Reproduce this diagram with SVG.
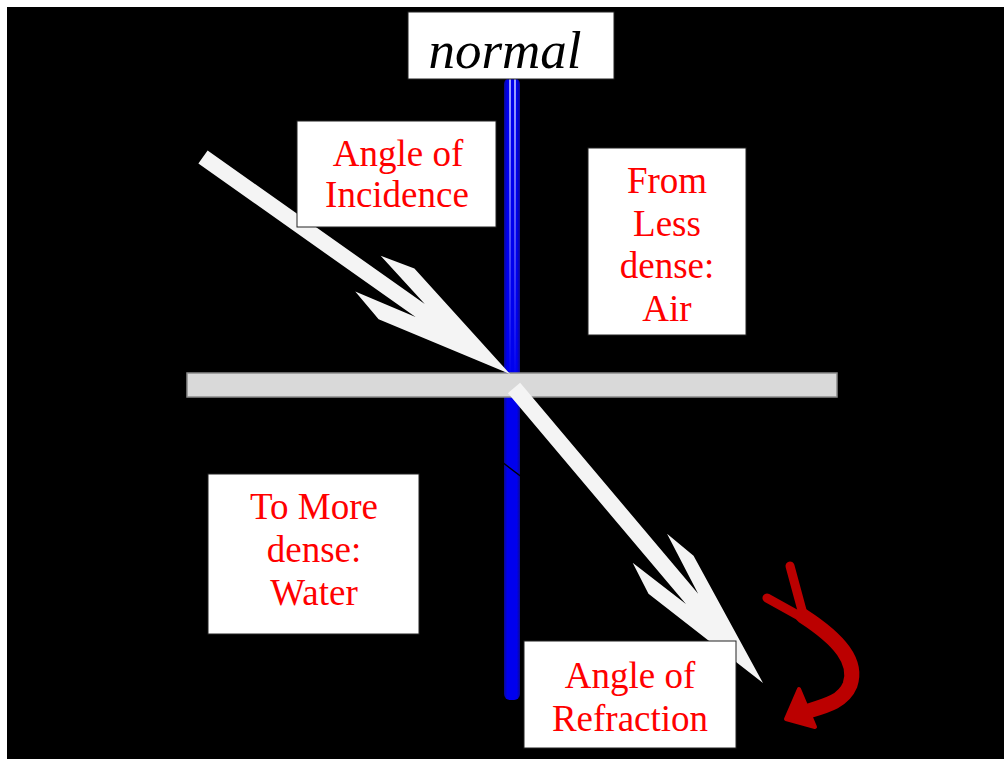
<svg xmlns="http://www.w3.org/2000/svg" width="1004" height="761" viewBox="0 0 1004 761">
  <defs>
    <style>
      .box { fill: #ffffff; stroke: #222222; stroke-width: 1; }
      .lbl { font-family: "Liberation Serif", "Times New Roman", serif; font-size: 37px; fill: #ff0000; text-anchor: middle; }
      .norm { font-family: "Liberation Serif", "Times New Roman", serif; font-size: 53px; font-style: italic; fill: #000000; text-anchor: middle; }
      .ray { fill: #f4f4f4; }
    </style>
    <linearGradient id="blueH" x1="0" y1="0" x2="1" y2="0">
      <stop offset="0" stop-color="#0a0a90"/>
      <stop offset="0.2" stop-color="#0000ee"/>
      <stop offset="0.8" stop-color="#0000ee"/>
      <stop offset="1" stop-color="#0a0a90"/>
    </linearGradient>
    <linearGradient id="stripeFade" x1="0" y1="0" x2="0" y2="1">
      <stop offset="0" stop-color="#b0b8ff" stop-opacity="0.9"/>
      <stop offset="1" stop-color="#b0b8ff" stop-opacity="0"/>
    </linearGradient>
  </defs>

  <rect x="0" y="0" width="1004" height="761" fill="#ffffff"/>
  <rect x="7" y="7" width="997" height="752" fill="#000000"/>

  <g id="normal-line">
    <rect x="504" y="78" width="16" height="622" rx="6" fill="url(#blueH)"/>
    <rect x="509" y="78" width="2" height="300" fill="url(#stripeFade)"/>
    <rect x="514" y="78" width="2" height="300" fill="url(#stripeFade)"/>
    <line x1="502" y1="462" x2="523" y2="478" stroke="#000000" stroke-width="1.5"/>
  </g>

  <g id="surface">
    <rect x="187" y="373" width="650" height="24" fill="#d9d9d9" stroke="#8a8a8a" stroke-width="1.5"/>
  </g>

  <g id="connectors">
    <path id="incident-ray" class="ray" transform="translate(203,157) rotate(35.26)" d="M0,-8 L266,-8 L202,-22 L237,-31 L376,0 L237,31 L202,22 L266,8 L0,8 Z"/>
    <path id="refracted-ray" class="ray" transform="translate(514,388) rotate(49.83)" d="M0,-8 L276,-8 L210,-23 L244,-29 L386,0 L244,30 L210,22 L276,8 L0,8 Z"/>
    <g id="red-curved-arrow" fill="none" stroke="#bb0000" stroke-linecap="round">
      <path d="M767,598 L803,618" stroke-width="9"/>
      <path d="M790,566 L803,614" stroke-width="9"/>
      <path d="M803,616 C840,640 858,662 850,685 C843,702 825,706 805,712" stroke-width="15"/>
      <polygon points="786,719 799,689 815,727" fill="#bb0000" stroke="#bb0000" stroke-width="4" stroke-linejoin="round"/>
    </g>
  </g>

  <g id="node-normal">
    <rect class="box" x="408" y="12" width="206" height="67"/>
    <text class="norm" x="505" y="68">normal</text>
  </g>

  <g id="node-incidence">
    <rect class="box" x="297" y="121" width="199" height="106"/>
    <text class="lbl" x="398" y="166">Angle of</text>
    <text class="lbl" x="397" y="207">Incidence</text>
  </g>

  <g id="node-air">
    <rect class="box" x="588" y="148" width="158" height="187"/>
    <text class="lbl" x="667" y="193">From</text>
    <text class="lbl" x="667" y="236">Less</text>
    <text class="lbl" x="667" y="278">dense:</text>
    <text class="lbl" x="667" y="321">Air</text>
  </g>

  <g id="node-water">
    <rect class="box" x="208" y="474" width="211" height="160"/>
    <text class="lbl" x="314" y="519">To More</text>
    <text class="lbl" x="314" y="562">dense:</text>
    <text class="lbl" x="314" y="605">Water</text>
  </g>

  <g id="node-refraction">
    <rect class="box" x="524" y="641" width="212" height="107"/>
    <text class="lbl" x="630" y="688">Angle of</text>
    <text class="lbl" x="630" y="731">Refraction</text>
  </g>
</svg>
